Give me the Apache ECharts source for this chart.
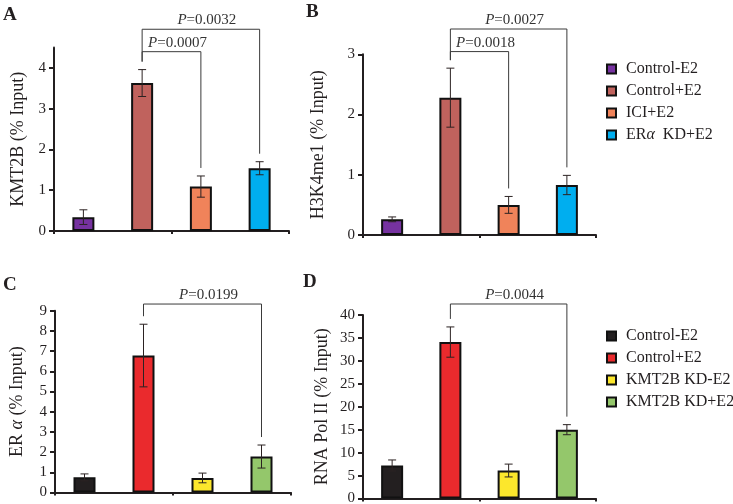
<!DOCTYPE html>
<html>
<head>
<meta charset="utf-8">
<script src="https://cdn.jsdelivr.net/npm/echarts@6/dist/echarts.min.js"></script>
<style>html,body{margin:0;padding:0;background:#fff;}#c{width:733px;height:504px;}</style>
</head>
<body>
<div id="c"></div>
<script>
// ---------- data ----------
const catsAB = ['Control-E2', 'Control+E2', 'ICI+E2', 'ERα KD+E2'];
const catsCD = ['Control-E2', 'Control+E2', 'KMT2B KD-E2', 'KMT2B KD+E2'];
const colorsAB = ['#7632A0', '#C0625D', '#F0835A', '#00AEEF'];
const colorsCD = ['#231F20', '#EA2A2D', '#FCE72C', '#94C76B'];

const kmt2bVals = [0.34, 3.63, 1.09, 1.54];
const kmt2bErr  = [0.18, 0.33, 0.26, 0.16];
const h3k4Vals  = [0.26, 2.28, 0.50, 0.83];
const h3k4Err   = [0.04, 0.49, 0.14, 0.16];
const eraVals   = [0.75, 6.78, 0.72, 1.78];
const eraErr    = [0.17, 1.55, 0.24, 0.57];
const polVals   = [7.2, 34.1, 6.1, 15.0];
const polErr    = [1.2, 3.3, 1.4, 1.1];

const ticksA = [0, 1, 2, 3, 4];
const ticksB = [0, 1, 2, 3];
const ticksC = [0, 1, 2, 3, 4, 5, 6, 7, 8, 9];
const ticksD = [0, 5, 10, 15, 20, 25, 30, 35, 40];

// brackets: from category, to category, level (axis value), p-value text
const bracketsA = [{from: 1, to: 3, level: 4.95, p: '0.0032'}, {from: 1, to: 2, level: 4.40, p: '0.0007'}];
const bracketsB = [{from: 1, to: 3, level: 3.42, p: '0.0027'}, {from: 1, to: 2, level: 3.045, p: '0.0018'}];
const bracketsC = [{from: 1, to: 3, level: 9.33, p: '0.0199'}];
const bracketsD = [{from: 1, to: 3, level: 42.4, p: '0.0044'}];

// ---------- styling ----------
const FF = '"Liberation Serif", "Times New Roman", serif';
const INK = '#231F20';

const panels = [
  {key: 'AB', cats: catsAB, colors: colorsAB, vals: kmt2bVals, errs: kmt2bErr, ticks: ticksA, max: 4.5, interval: 1,
   name: 'KMT2B (% Input)', nameGap: 27, grid: {left: 54, top: 47.6, width: 235, height: 183.4}, brackets: bracketsA},
  {key: 'AB', cats: catsAB, colors: colorsAB, vals: h3k4Vals, errs: h3k4Err, ticks: ticksB, max: 3, interval: 1,
   name: 'H3K4me1 (% Input)', nameGap: 36, grid: {left: 363, top: 54.3, width: 233, height: 180.7}, brackets: bracketsB},
  {key: 'CD', cats: catsCD, colors: colorsCD, vals: eraVals, errs: eraErr, ticks: ticksC, max: 9, interval: 1,
   name: '{r|ER }{i|α}{r| (% Input)}', nameGap: 29, grid: {left: 55, top: 310.7, width: 236, height: 181.8}, brackets: bracketsC},
  {key: 'CD', cats: catsCD, colors: colorsCD, vals: polVals, errs: polErr, ticks: ticksD, max: 40, interval: 5,
   name: 'RNA Pol II (% Input)', nameGap: 32, grid: {left: 363, top: 315, width: 233, height: 183.5}, brackets: bracketsD}
];

const grids = [], xAxes = [], yAxes = [], series = [];

panels.forEach((p, k) => {
  grids.push(Object.assign({outerBoundsMode: 'none', containLabel: false}, p.grid));
  xAxes.push({
    type: 'category', gridIndex: k, data: p.cats, boundaryGap: true,
    axisLine: {lineStyle: {color: INK, width: 2}},
    axisTick: {show: true, length: 3, lineStyle: {color: INK, width: 2}},
    axisLabel: {show: false}, splitLine: {show: false}
  });
  yAxes.push({
    type: 'value', gridIndex: k, min: 0, max: p.max, interval: p.interval,
    name: p.name, nameLocation: 'middle', nameGap: p.nameGap, nameRotate: 90,
    nameTextStyle: {fontFamily: FF, fontSize: 18, color: INK,
      rich: {r: {fontFamily: FF, fontSize: 18, color: INK}, i: {fontFamily: FF, fontSize: 18, fontStyle: 'italic', color: INK}}},
    axisLine: {show: true, lineStyle: {color: INK, width: 2}},
    axisTick: {show: true, length: 5, customValues: p.ticks, lineStyle: {color: INK, width: 2}},
    axisLabel: {customValues: p.ticks, fontFamily: FF, fontSize: 15, color: INK, margin: 8},
    splitLine: {show: false}
  });
  p.cats.forEach((c, i) => {
    series.push({
      type: 'bar', name: p.key + '|' + c, xAxisIndex: k, yAxisIndex: k,
      data: p.cats.map((_, j) => j === i ? p.vals[j] : null),
      barWidth: 22, barGap: '-100%',
      itemStyle: {color: p.colors[i], borderColor: '#111', borderWidth: 2},
      z: 2
    });
  });
  // error bars
  series.push({
    type: 'custom', xAxisIndex: k, yAxisIndex: k, z: 5, clip: false, silent: true,
    data: p.vals.map((v, i) => [i, v, p.errs[i]]),
    encode: {x: 0, y: 1},
    renderItem: function (params, api) {
      const i = api.value(0), v = api.value(1), e = api.value(2);
      const t = api.coord([i, v + e]), b = api.coord([i, v - e]);
      const x = t[0], cap = 4;
      const st = {stroke: '#2b2222', lineWidth: 1};
      return {type: 'group', children: [
        {type: 'line', shape: {x1: x, y1: t[1], x2: x, y2: b[1]}, style: st},
        {type: 'line', shape: {x1: x - cap, y1: t[1], x2: x + cap, y2: t[1]}, style: st},
        {type: 'line', shape: {x1: x - cap, y1: b[1], x2: x + cap, y2: b[1]}, style: st}
      ]};
    }
  });
  // significance brackets
  series.push({
    type: 'custom', xAxisIndex: k, yAxisIndex: k, z: 6, clip: false, silent: true,
    data: p.brackets.map(b => [b.from, b.level]),
    encode: {x: 0, y: 1},
    renderItem: function (params, api) {
      const br = p.brackets[params.dataIndex];
      const gap = 8;
      const a = api.coord([br.from, p.vals[br.from] + p.errs[br.from]]);
      const c = api.coord([br.to, p.vals[br.to] + p.errs[br.to]]);
      const ly = api.coord([br.from, br.level])[1];
      return {type: 'group', children: [
        {type: 'polyline', shape: {points: [[a[0], a[1] - gap], [a[0], ly], [c[0], ly], [c[0], c[1] - gap]]},
         style: {stroke: '#3a3a3a', lineWidth: 1, fill: null}},
        {type: 'text', x: (a[0] + c[0]) / 2 + 6, y: ly - 9,
         style: {text: '{i|P}{r|=' + br.p + '}', align: 'center', verticalAlign: 'middle',
           rich: {i: {fontFamily: FF, fontSize: 15, fontStyle: 'italic', fill: '#333'},
                  r: {fontFamily: FF, fontSize: 15, fill: '#333'}}}}
      ]};
    }
  });
});

function legendFmt(name) {
  const n = name.split('|')[1];
  if (n.indexOf('α') >= 0) {
    const parts = n.split('α');
    return '{f|' + parts[0] + '}{i|α}{r|' + parts[1].replace(' ', '  ') + '}';
  }
  return '{f|' + n + '}';
}
const legendRich = {
  f: {fontFamily: FF, fontSize: 16, color: INK, padding: [0, 0, 0, 5]},
  r: {fontFamily: FF, fontSize: 16, color: INK},
  i: {fontFamily: FF, fontSize: 16, color: INK, fontStyle: 'italic'}
};
function mkLegend(key, cats, top) {
  return {
    data: cats.map(c => key + '|' + c), orient: 'vertical', left: 606, top: top,
    itemWidth: 9, itemHeight: 9, itemGap: 6, icon: 'rect', selectedMode: false, padding: 0,
    itemStyle: {borderColor: '#111', borderWidth: 2},
    formatter: legendFmt,
    textStyle: {fontFamily: FF, fontSize: 16, color: INK, lineHeight: 16, rich: legendRich}
  };
}

const titleStyle = {fontFamily: FF, fontSize: 19, fontWeight: 'bold', color: INK};
const option = {
  animation: false,
  backgroundColor: '#fff',
  title: [
    {text: 'A', left: 3, top: 6, padding: 0, textStyle: titleStyle},
    {text: 'B', left: 306, top: 3, padding: 0, textStyle: titleStyle},
    {text: 'C', left: 3, top: 276, padding: 0, textStyle: titleStyle},
    {text: 'D', left: 303, top: 273, padding: 0, textStyle: titleStyle}
  ],
  legend: [mkLegend('AB', catsAB, 61), mkLegend('CD', catsCD, 328)],
  grid: grids, xAxis: xAxes, yAxis: yAxes, series: series
};

const chart = echarts.init(document.getElementById('c'), null, {renderer: 'canvas'});
chart.setOption(option);
</script>
</body>
</html>
